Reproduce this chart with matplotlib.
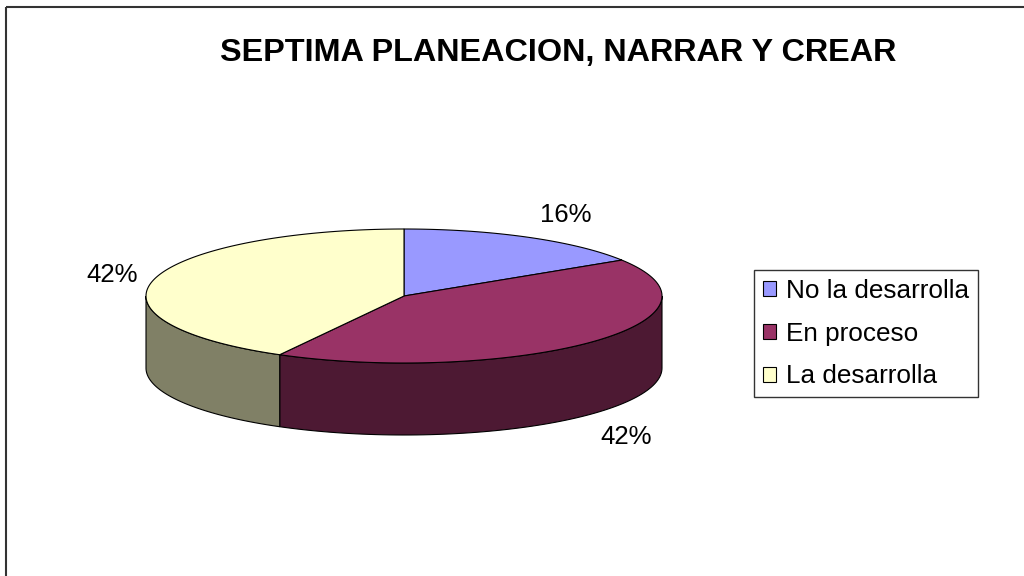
import numpy as np
import matplotlib.pyplot as plt
from matplotlib.patches import Polygon, Patch, Rectangle

plt.rcParams['font.family'] = ['Liberation Sans', 'DejaVu Sans']

# data
categories = ['No la desarrolla', 'En proceso', 'La desarrolla']
values = [16, 42, 42]
top_colors = ['#9999FF', '#993366', '#FFFFCC']
side_colors = ['#4D4D80', '#4D1933', '#808066']
title = 'SEPTIMA PLANEACION, NARRAR Y CREAR'

# layout of the fake 3D pie (pixel space)
cx, cy = 404, 296
rx, ry = 258, 67
depth = 72
label_xy = [(566, 215), (626, 437), (112, 275)]

fig = plt.figure(figsize=(10.24, 5.76), dpi=100)
ax = fig.add_axes([0, 0, 1, 1])
ax.set_xlim(0, 1024)
ax.set_ylim(576, 0)
ax.axis('off')

# outer chart frame (cut off on the right and bottom)
ax.add_patch(Rectangle((6, 7), 1040, 600, fill=False, edgecolor='#333333', lw=1.5))


def pt(theta, dz=0):
    # theta in degrees, clockwise from 12 o'clock
    t = np.radians(theta)
    return cx + rx * np.sin(t), cy - ry * np.cos(t) + dz


frac = np.array(values) / sum(values) * 360
starts = np.concatenate([[0], np.cumsum(frac)[:-1]])
ends = starts + frac

# side walls (front half only)
for s, e, c in zip(starts, ends, side_colors):
    a, b = max(s, 90), min(e, 270)
    if a >= b:
        continue
    th = np.linspace(a, b, 80)
    top = [pt(t) for t in th]
    bot = [pt(t, depth) for t in th[::-1]]
    ax.add_patch(Polygon(top + bot, closed=True, facecolor=c, edgecolor='black', lw=0.8))

# top faces
for s, e, c in zip(starts, ends, top_colors):
    th = np.linspace(s, e, 120)
    poly = [(cx, cy)] + [pt(t) for t in th]
    ax.add_patch(Polygon(poly, closed=True, facecolor=c, edgecolor='black', lw=0.8))

# percent labels
for v, (lx, ly) in zip(values, label_xy):
    ax.text(lx, ly, f'{v}%', ha='center', va='center', fontsize=18.5)

ax.text(558, 53, title, ha='center', va='center', fontsize=23.3, fontweight='bold')

handles = [Patch(facecolor=c, edgecolor='black', lw=0.8) for c in top_colors]
leg = ax.legend(handles, categories, loc='upper left',
                bbox_to_anchor=(754 / 1024, 1 - 270 / 576), fontsize=18.8,
                frameon=True, fancybox=False, edgecolor='black',
                handlelength=0.5, handleheight=0.5, handletextpad=0.4,
                labelspacing=0.72, borderpad=0.34, borderaxespad=0)
leg.get_frame().set_linewidth(1)

fig.savefig('out.png', dpi=100)
